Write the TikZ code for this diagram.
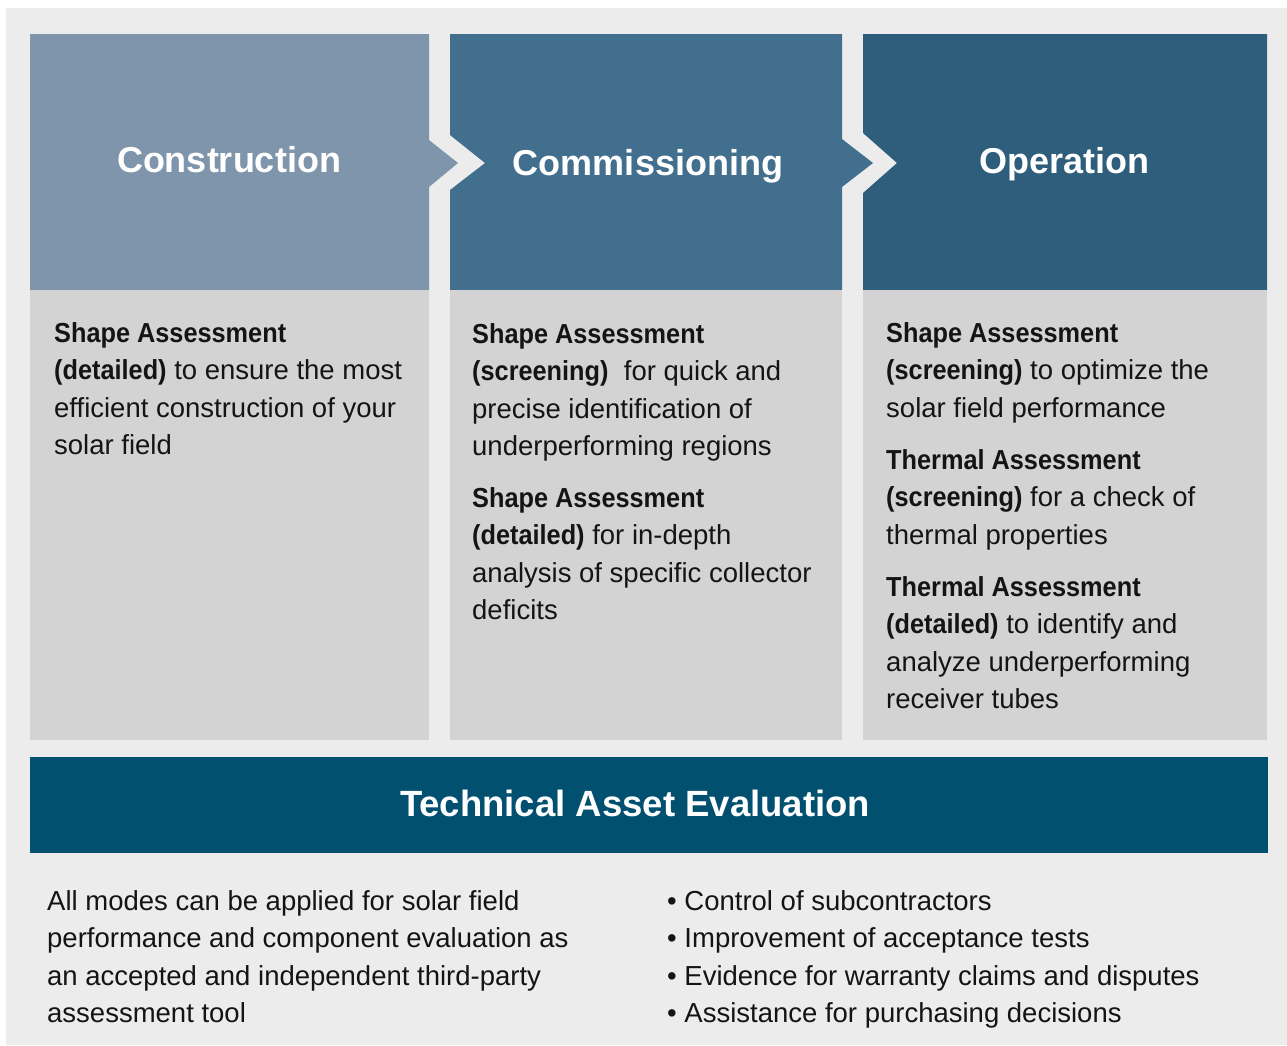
\documentclass[tikz,border=0pt]{standalone}
\usepackage{fontspec}
\setmainfont{Liberation Sans}[BoldFeatures={FakeStretch=0.92}]
\newfontfamily\hdfont{Liberation Sans}
\definecolor{bgc}{HTML}{ECECEC}
\definecolor{hdone}{HTML}{7F95AC}
\definecolor{hdtwo}{HTML}{436F8E}
\definecolor{hdthree}{HTML}{2E5E7B}
\definecolor{bodyc}{HTML}{D3D3D3}
\definecolor{barc}{HTML}{02506F}
\definecolor{txtc}{HTML}{141414}
\tikzset{
  txt/.style={anchor=base west, inner sep=0pt, text=txtc, font=\fontsize{27.5}{37.5}\selectfont},
  hdtxt/.style={anchor=base, inner sep=0pt, text=white, font=\hdfont\bfseries\fontsize{36}{40}\selectfont},
}
\newcommand\tline[3]{\node[txt] (#1) at (#2) {#3};}
\begin{document}
\begin{tikzpicture}[x=1pt,y=-1pt]
\useasboundingbox (0,0) rectangle (1287,1045);
\fill[white] (0,0) rectangle (1287,1045);
\fill[bgc] (6,8) rectangle (1287,1045);
% headers
\fill[hdone] (30,34) -- (429,34) -- (429,140) -- (458,163) -- (429,187) -- (429,290) -- (30,290) -- cycle;
\fill[hdtwo] (450,34) -- (842,34) -- (842,139) -- (873,163) -- (842,187) -- (842,290) -- (450,290) -- (450,190) -- (485,163) -- (450,135) -- cycle;
\fill[hdthree] (863,34) -- (1267,34) -- (1267,290) -- (863,290) -- (863,193) -- (897,163) -- (863,133) -- cycle;
% bodies
\fill[bodyc] (30,290) rectangle (429,740);
\fill[bodyc] (450,290) rectangle (842,740);
\fill[bodyc] (863,290) rectangle (1267,740);
% bottom bar
\fill[barc] (30,757) rectangle (1268,853);
% header texts
\node[hdtxt] (h1) at (229,172) {Construction};
\node[hdtxt] (h2) at (648,175) {Commissioning};
\node[hdtxt] (h3) at (1064,173) {Operation};
\node[hdtxt, font=\hdfont\bfseries\fontsize{36.5}{40}\selectfont] (h4) at (635,816) {Technical Asset Evaluation};
% column 1
\tline{a1}{54,342}{\textbf{Shape Assessment}}
\tline{a2}{54,379.5}{\textbf{(detailed)} to ensure the most}
\tline{a3}{54,417}{efficient construction of your}
\tline{a4}{54,454.5}{solar field}
% column 2
\tline{b1}{472,343}{\textbf{Shape Assessment}}
\tline{b2}{472,380.5}{\textbf{(screening)}\ \ for quick and}
\tline{b3}{472,418}{precise identification of}
\tline{b4}{472,455.5}{underperforming regions}
\tline{b5}{472,507}{\textbf{Shape Assessment}}
\tline{b6}{472,544.5}{\textbf{(detailed)} for in-depth}
\tline{b7}{472,582}{analysis of specific collector}
\tline{b8}{472,619.5}{deficits}
% column 3
\tline{c1}{886,342}{\textbf{Shape Assessment}}
\tline{c2}{886,379.5}{\textbf{(screening)} to optimize the}
\tline{c3}{886,417}{solar field performance}
\tline{c4}{886,469}{\textbf{Thermal Assessment}}
\tline{c5}{886,506.5}{\textbf{(screening)} for a check of}
\tline{c6}{886,544}{thermal properties}
\tline{c7}{886,596}{\textbf{Thermal Assessment}}
\tline{c8}{886,633.5}{\textbf{(detailed)} to identify and}
\tline{c9}{886,671}{analyze underperforming}
\tline{c10}{886,708.5}{receiver tubes}
% bottom left
\tline{d1}{47,910}{All modes can be applied for solar field}
\tline{d2}{47,947.5}{performance and component evaluation as}
\tline{d3}{47,985}{an accepted and independent third-party}
\tline{d4}{47,1022.5}{assessment tool}
% bottom right
\tline{e1}{667,910}{\textbullet\ Control of subcontractors}
\tline{e2}{667,947.5}{\textbullet\ Improvement of acceptance tests}
\tline{e3}{667,985}{\textbullet\ Evidence for warranty claims and disputes}
\tline{e4}{667,1022.5}{\textbullet\ Assistance for purchasing decisions}
\end{tikzpicture}
\end{document}
